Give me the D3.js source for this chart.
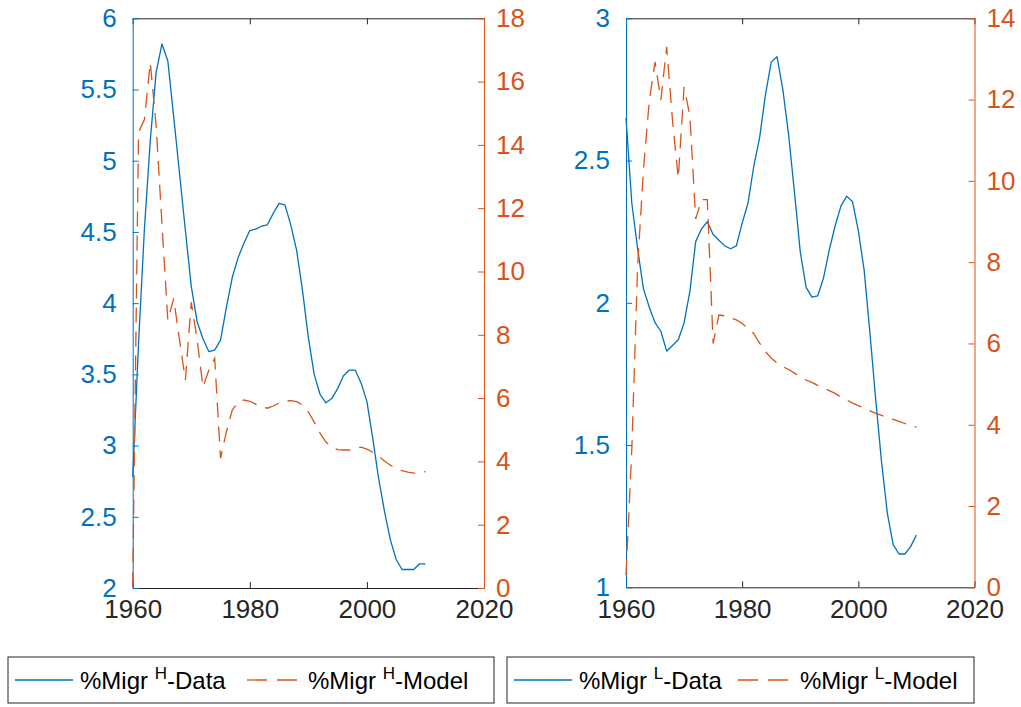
<!DOCTYPE html>
<html>
<head>
<meta charset="utf-8">
<script src="https://cdn.jsdelivr.net/npm/d3@7"></script>
<style>
  body { margin: 0; background: #fff; }
  svg { display: block; font-family: "Liberation Sans", Arial, Helvetica, sans-serif; }
</style>
</head>
<body>
<svg id="chart" width="1021" height="707"></svg>
<script>
// Years covered by both series
const years = [1960,1961,1962,1963,1964,1965,1966,1967,1968,1969,
               1970,1971,1972,1973,1974,1975,1976,1977,1978,1979,
               1980,1981,1982,1983,1984,1985,1986,1987,1988,1989,
               1990,1991,1992,1993,1994,1995,1996,1997,1998,1999,
               2000,2001,2002,2003,2004,2005,2006,2007,2008,2009,2010];

// High-skill migration share: data (left axis) and model (right axis)
const migrHData = [2.78,3.72,4.52,5.14,5.62,5.82,5.70,5.31,4.91,4.51,
                   4.12,3.87,3.75,3.66,3.67,3.74,3.97,4.18,4.32,4.42,
                   4.51,4.52,4.54,4.55,4.63,4.70,4.69,4.55,4.37,4.09,
                   3.76,3.50,3.36,3.30,3.33,3.40,3.49,3.53,3.53,3.44,
                   3.31,3.05,2.77,2.54,2.34,2.20,2.13,2.13,2.13,2.17,2.17];
const migrHModel = [0.05,14.4,14.8,16.6,14.6,11.5,8.46,9.15,7.83,6.57,
                    9.03,7.85,6.35,6.88,7.26,4.10,4.93,5.62,5.87,5.94,
                    5.90,5.81,5.72,5.68,5.75,5.84,5.90,5.92,5.89,5.78,
                    5.56,5.24,4.89,4.61,4.45,4.37,4.36,4.36,4.42,4.45,
                    4.39,4.29,4.17,4.01,3.88,3.79,3.71,3.66,3.63,3.63,3.68];

// Low-skill migration share: data (left axis) and model (right axis)
const migrLData = [2.65,2.35,2.19,2.05,1.985,1.93,1.90,1.83,1.85,1.87,
                   1.93,2.04,2.215,2.26,2.285,2.24,2.22,2.20,2.19,2.20,
                   2.28,2.35,2.48,2.58,2.73,2.846,2.865,2.75,2.59,2.39,
                   2.18,2.055,2.02,2.024,2.087,2.186,2.27,2.34,2.375,2.355,
                   2.254,2.115,1.894,1.658,1.44,1.26,1.15,1.117,1.117,1.143,1.184];
const migrLModel = [0.3,3.4,7.9,10.27,11.95,12.93,11.99,13.3,11.5,10.07,
                    12.31,11.6,9.06,9.54,9.54,6.0,6.7,6.68,6.63,6.58,
                    6.49,6.37,6.24,6.01,5.80,5.64,5.52,5.43,5.36,5.27,
                    5.18,5.10,5.04,4.97,4.90,4.84,4.77,4.68,4.61,4.53,
                    4.47,4.41,4.34,4.28,4.23,4.18,4.13,4.08,4.03,3.98,3.94];

// Tick values
const xTicks = [1960, 1980, 2000, 2020];
const leftTicksH = [2, 2.5, 3, 3.5, 4, 4.5, 5, 5.5, 6];
const rightTicksH = [0, 2, 4, 6, 8, 10, 12, 14, 16, 18];
const leftTicksL = [1, 1.5, 2, 2.5, 3];
const rightTicksL = [0, 2, 4, 6, 8, 10, 12, 14];

// Legend labels
const legendH = [["%Migr ", "H", "-Data"], ["%Migr ", "H", "-Model"]];
const legendL = [["%Migr ", "L", "-Data"], ["%Migr ", "L", "-Model"]];

const BLUE = "#0072BD";
const RED = "#D95319";
const DARK = "#262626";
const TICK_FONT = 26;
const LEGEND_FONT = 24;
const SUP_FONT = 17;
const DASH = "15,9";

const svg = d3.select("#chart");

function drawPanel(p) {
  const x = d3.scaleLinear().domain([1960, 2020]).range([p.x0, p.x1]);
  const yL = d3.scaleLinear().domain(p.leftDomain).range([p.y1, p.y0]);
  const yR = d3.scaleLinear().domain(p.rightDomain).range([p.y1, p.y0]);
  const fmt = d => String(d);

  const g = svg.append("g");

  // top edge of the box
  g.append("g")
    .attr("transform", `translate(0,${p.y0})`)
    .call(d3.axisTop(x).tickValues(xTicks).tickSizeInner(-6).tickSizeOuter(0).tickFormat(""))
    .call(a => a.selectAll("path,line").attr("stroke", DARK));

  // bottom x axis
  g.append("g")
    .attr("transform", `translate(0,${p.y1})`)
    .call(d3.axisBottom(x).tickValues(xTicks).tickSizeInner(-6).tickSizeOuter(0)
          .tickPadding(12).tickFormat(fmt))
    .call(a => a.selectAll("path,line").attr("stroke", DARK))
    .call(a => a.selectAll("text").attr("fill", DARK).attr("font-size", TICK_FONT)
                .attr("font-family", null));

  // left y axis
  g.append("g")
    .attr("transform", `translate(${p.x0},0)`)
    .call(d3.axisLeft(yL).tickValues(p.leftTicks).tickSizeInner(-6).tickSizeOuter(0)
          .tickPadding(16).tickFormat(fmt))
    .call(a => a.selectAll("path,line").attr("stroke", BLUE))
    .call(a => a.selectAll("text").attr("fill", BLUE).attr("font-size", TICK_FONT)
                .attr("font-family", null));

  // right y axis
  g.append("g")
    .attr("transform", `translate(${p.x1},0)`)
    .call(d3.axisRight(yR).tickValues(p.rightTicks).tickSizeInner(-6).tickSizeOuter(0)
          .tickPadding(12).tickFormat(fmt))
    .call(a => a.selectAll("path,line").attr("stroke", RED))
    .call(a => a.selectAll("text").attr("fill", RED).attr("font-size", TICK_FONT)
                .attr("font-family", null));

  // data series (solid, left axis)
  g.append("path")
    .datum(p.data)
    .attr("fill", "none")
    .attr("stroke", BLUE)
    .attr("stroke-width", 1.3)
    .attr("stroke-linejoin", "round")
    .attr("d", d3.line().x((d, i) => x(years[i])).y(d => yL(d)));

  // model series (dashed, right axis)
  g.append("path")
    .datum(p.model)
    .attr("fill", "none")
    .attr("stroke", RED)
    .attr("stroke-width", 1.3)
    .attr("stroke-dasharray", DASH)
    .attr("d", d3.line().x((d, i) => x(years[i])).y(d => yR(d)));
}

function drawLegend(lg) {
  const g = svg.append("g");
  g.append("rect")
    .attr("x", lg.x).attr("y", lg.y).attr("width", lg.w).attr("height", lg.h)
    .attr("fill", "#fff").attr("stroke", DARK).attr("stroke-width", 1);

  const midY = lg.y + lg.h / 2;
  lg.items.forEach((it, i) => {
    const lab = lg.labels[i];
    g.append("line")
      .attr("x1", it.s0).attr("x2", it.s1).attr("y1", midY).attr("y2", midY)
      .attr("stroke", it.color).attr("stroke-width", 1.3)
      .attr("stroke-dasharray", it.dash ? "20,10" : null);
    const t = g.append("text")
      .attr("x", it.tx).attr("y", midY + 9)
      .attr("font-size", LEGEND_FONT).attr("fill", "#000");
    t.append("tspan").text(lab[0]);
    t.append("tspan").attr("font-size", SUP_FONT).attr("dy", -10).text(lab[1]);
    t.append("tspan").attr("dy", 10).text(lab[2]);
  });
}

drawPanel({
  x0: 132.7, x1: 484, y0: 18.3, y1: 588,
  leftDomain: [2, 6], rightDomain: [0, 18],
  leftTicks: leftTicksH, rightTicks: rightTicksH,
  data: migrHData, model: migrHModel
});

drawPanel({
  x0: 626, x1: 974.5, y0: 18.3, y1: 587.3,
  leftDomain: [1, 3], rightDomain: [0, 14],
  leftTicks: leftTicksL, rightTicks: rightTicksL,
  data: migrLData, model: migrLModel
});

drawLegend({
  x: 8, y: 657, w: 486, h: 46, labels: legendH,
  items: [
    { s0: 15, s1: 73, tx: 80, color: BLUE, dash: false },
    { s0: 247, s1: 302, tx: 308, color: RED, dash: true }
  ]
});

drawLegend({
  x: 507, y: 657, w: 467, h: 46, labels: legendL,
  items: [
    { s0: 514, s1: 572, tx: 579, color: BLUE, dash: false },
    { s0: 738, s1: 793, tx: 800, color: RED, dash: true }
  ]
});
</script>
</body>
</html>
